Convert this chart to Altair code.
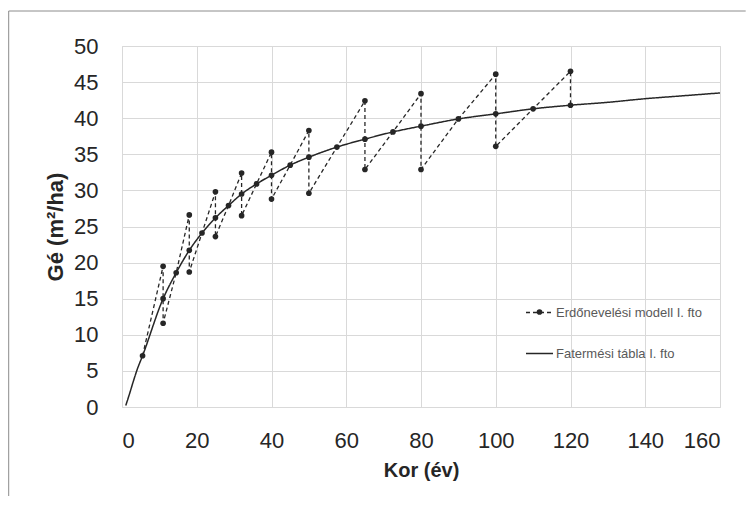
import altair as alt
import pandas as pd

SERIES_MODEL = "Erdőnevelési modell I. fto"
SERIES_TABLE = "Fatermési tábla I. fto"

# Erdőnevelési modell (zigzag with thinnings)
model_age = [5.5, 11, 11, 11, 14.5, 18, 18, 18, 21.4, 25, 25, 25, 28.5, 32, 32, 32,
             36, 40, 40, 40, 45, 50, 50, 50, 57.5, 65, 65, 65, 72.5, 80, 80, 80,
             90, 100, 100, 100, 110, 120, 120]
model_g = [7.1, 19.5, 15.0, 11.6, 18.6, 26.6, 21.7, 18.7, 24.1, 29.8, 26.2, 23.6,
           27.9, 32.4, 29.5, 26.5, 30.9, 35.3, 32.1, 28.8, 33.5, 38.3, 34.6, 29.6,
           36.0, 42.4, 37.1, 32.9, 38.1, 43.4, 38.9, 32.9, 39.9, 46.1, 40.6, 36.1,
           41.3, 46.5, 41.8]

# Fatermési tábla (smooth curve)
table_age = [1, 2, 3, 4, 5.5, 11, 14.5, 18, 21.4, 25, 28.5, 32, 36, 40, 45, 50,
             57.5, 65, 72.5, 80, 90, 100, 110, 120, 130, 140, 150, 160]
table_g = [0.2, 1.8, 3.5, 5.1, 7.1, 15.0, 18.6, 21.7, 24.1, 26.2, 27.9, 29.5, 30.9,
           32.1, 33.5, 34.6, 36.0, 37.1, 38.1, 38.9, 39.9, 40.6, 41.3, 41.8, 42.2,
           42.7, 43.1, 43.5]

x_ticks = list(range(0, 161, 20))
y_ticks = list(range(0, 51, 5))

df_model = pd.DataFrame({"kor": model_age, "g": model_g, "series": SERIES_MODEL,
                         "pt": SERIES_MODEL, "ord": list(range(len(model_age)))})
df_table = pd.DataFrame({"kor": table_age, "g": table_g, "series": SERIES_TABLE})
df_one = pd.DataFrame({"a": [0]})

FONT = "Liberation Sans, Arial"
INK = "#262626"

x_enc = alt.X("kor:Q", scale=alt.Scale(domain=[0, 160], nice=False),
              axis=alt.Axis(values=x_ticks, title="Kor (év)"))
y_enc = alt.Y("g:Q", scale=alt.Scale(domain=[0, 50], nice=False),
              axis=alt.Axis(values=y_ticks, title="Gé (m²/ha)"))

dash_enc = alt.StrokeDash(
    "series:N",
    scale=alt.Scale(domain=[SERIES_MODEL, SERIES_TABLE], range=[[4, 3], [1, 0]]),
    legend=alt.Legend(orient="none", legendX=403, legendY=252, title=None,
                      symbolType="stroke", symbolSize=729, symbolStrokeWidth=1.4,
                      symbolStrokeColor=INK, rowPadding=19, labelOffset=2,
                      labelFont=FONT, labelFontSize=13, labelColor="#595959",
                      labelLimit=400, padding=0),
)

table_line = alt.Chart(df_table).mark_line(
    color=INK, strokeWidth=1.5, interpolate="monotone"
).encode(x=x_enc, y=y_enc, strokeDash=dash_enc)

model_line = alt.Chart(df_model).mark_line(
    color=INK, strokeWidth=1.3
).encode(x=x_enc, y=y_enc, strokeDash=dash_enc, order="ord:Q")

model_pts = alt.Chart(df_model).mark_point(
    filled=True, color=INK, size=32, opacity=1
).encode(
    x=x_enc, y=y_enc,
    shape=alt.Shape("pt:N", scale=alt.Scale(domain=[SERIES_MODEL], range=["circle"]),
                    legend=alt.Legend(orient="none", legendX=413.5, legendY=262,
                                      title=None, symbolSize=32, symbolFillColor=INK,
                                      symbolStrokeColor=INK, labelOpacity=0,
                                      labelFontSize=1, padding=0)),
)

left_rule = alt.Chart(df_one).mark_rule(color="#8c8c8c", strokeWidth=1).encode(
    x=alt.value(-113.3), y=alt.value(-35), y2=alt.value(450))
top_rule = alt.Chart(df_one).mark_rule(color="#8c8c8c", strokeWidth=1).encode(
    x=alt.value(-113.3), x2=alt.value(623.7), y=alt.value(-35))

chart = alt.layer(left_rule, top_rule, table_line, model_line, model_pts).properties(
    width=598, height=361,
    padding={"left": 0, "top": 2, "right": 0, "bottom": 0},
    background="white",
).configure_view(
    stroke="#d9d9d9", strokeWidth=1
).configure_axis(
    grid=True, gridColor="#d9d9d9", gridWidth=1, domain=False, ticks=False,
    labelFont=FONT, labelFontSize=22, labelColor=INK,
    titleFont=FONT, titleColor=INK, titleFontWeight="bold",
).configure_axisX(
    labelPadding=23, titleFontSize=20, titlePadding=9,
).configure_axisY(
    labelPadding=24, titleFontSize=22, titlePadding=6,
)

chart.save("out.html", embed_options={"renderer": "svg", "actions": False})
